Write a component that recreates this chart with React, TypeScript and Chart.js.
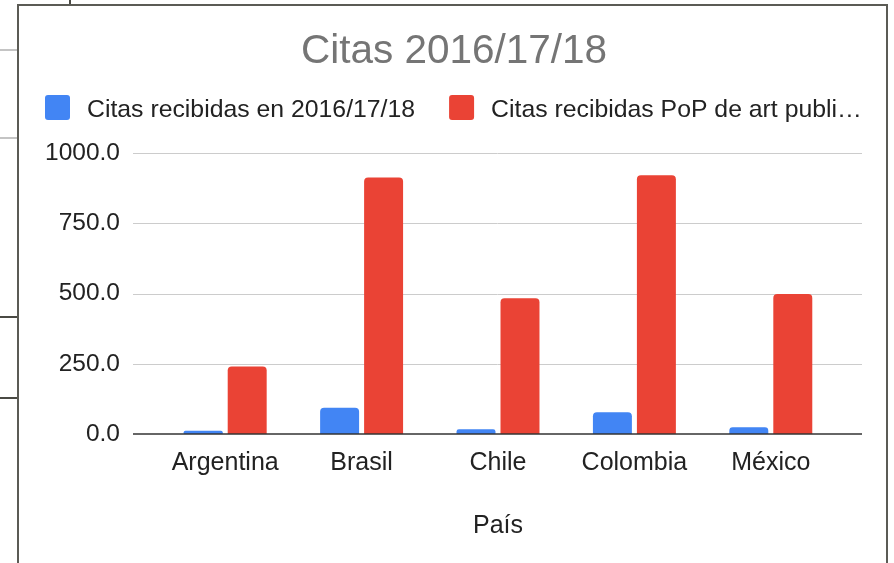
import React, { useEffect, useRef } from "react";
import { Chart, registerables } from "chart.js";

Chart.register(...registerables);

const chartTitle = "Citas 2016/17/18";
const categories = ["Argentina", "Brasil", "Chile", "Colombia", "México"];
const seriesNames = ["Citas recibidas en 2016/17/18", "Citas recibidas PoP de art publi…"];
const citasRecibidas = [12, 93, 17, 77, 24];
const citasPoP = [240, 913, 483, 921, 498];
const yTicks = [0, 250, 500, 750, 1000];
const xAxisTitle = "País";
const seriesColors = ["#4285F4", "#EA4335"];

const FONT = "Arial, 'Liberation Sans', sans-serif";

const decorPlugin = {
  id: "decor",
  beforeDatasetsDraw(chart: any) {
    const { ctx, chartArea, scales } = chart;
    const y = scales.y;
    ctx.save();
    ctx.strokeStyle = "#cccccc";
    ctx.lineWidth = 1;
    y.ticks.forEach((t: any) => {
      if (t.value === 0) return;
      const py = Math.round(y.getPixelForValue(t.value)) + 0.5;
      ctx.beginPath();
      ctx.moveTo(chartArea.left - 24, py);
      ctx.lineTo(chartArea.right + 23, py);
      ctx.stroke();
    });
    ctx.restore();
  },
  afterDatasetsDraw(chart: any) {
    const { ctx, chartArea, scales } = chart;
    const py = scales.y.getPixelForValue(0);
    ctx.save();
    ctx.strokeStyle = "#333333";
    ctx.lineWidth = 1.6;
    ctx.beginPath();
    ctx.moveTo(chartArea.left - 24, py);
    ctx.lineTo(chartArea.right + 23, py);
    ctx.stroke();
    ctx.restore();
  },
  afterDraw(chart: any) {
    const { ctx } = chart;
    ctx.save();
    // title
    ctx.font = `40.5px ${FONT}`;
    ctx.fillStyle = "#757575";
    ctx.textAlign = "center";
    ctx.textBaseline = "alphabetic";
    ctx.fillText(chartTitle, 454, 63);
    // legend
    ctx.font = `24.8px ${FONT}`;
    ctx.textAlign = "left";
    let x = 45;
    chart.data.datasets.forEach((ds: any) => {
      ctx.fillStyle = ds.backgroundColor;
      ctx.beginPath();
      (ctx as any).roundRect(x, 95, 25, 25, 3);
      ctx.fill();
      ctx.fillStyle = "#222222";
      ctx.fillText(ds.label, x + 42, 116.5);
      const w = ctx.measureText(ds.label).width;
      x = x + 42 + w + 34;
    });
    ctx.restore();
  },
};

export default function App() {
  const ref = useRef<HTMLCanvasElement | null>(null);

  useEffect(() => {
    if (!ref.current) return;
    const chart = new Chart(ref.current, {
      type: "bar",
      data: {
        labels: categories,
        datasets: [
          {
            label: seriesNames[0],
            data: citasRecibidas,
            backgroundColor: seriesColors[0],
            borderRadius: { topLeft: 4, topRight: 4, bottomLeft: 0, bottomRight: 0 },
            borderSkipped: false,
            categoryPercentage: 0.645,
            barPercentage: 0.886,
          },
          {
            label: seriesNames[1],
            data: citasPoP,
            backgroundColor: seriesColors[1],
            borderRadius: { topLeft: 4, topRight: 4, bottomLeft: 0, bottomRight: 0 },
            borderSkipped: false,
            categoryPercentage: 0.645,
            barPercentage: 0.886,
          },
        ],
      },
      options: {
        responsive: false,
        animation: false,
        devicePixelRatio: 1,
        layout: { padding: { top: 153, right: 55, bottom: 0, left: 0 } },
        plugins: {
          legend: { display: false },
          title: { display: false },
          tooltip: { enabled: false },
        },
        scales: {
          x: {
            grid: { display: false, drawTicks: false },
            border: { display: false },
            ticks: {
              font: { family: FONT, size: 25 },
              color: "#222222",
              padding: 14,
              maxRotation: 0,
            },
            title: {
              display: true,
              text: xAxisTitle,
              font: { family: FONT, size: 25 },
              color: "#222222",
              padding: { top: 0, bottom: 22 },
            },
            afterFit: (s: any) => {
              s.height = 129;
            },
          },
          y: {
            min: 0,
            max: 1000,
            grid: { display: false, drawTicks: false },
            border: { display: false },
            ticks: {
              font: { family: FONT, size: 24.5 },
              color: "#222222",
              padding: 37,
              callback: (v: any) => Number(v).toFixed(1),
            },
            afterBuildTicks: (s: any) => {
              s.ticks = yTicks.map((v) => ({ value: v }));
            },
            afterFit: (s: any) => {
              s.width = 157;
            },
          },
        },
      },
      plugins: [decorPlugin],
    });
    return () => chart.destroy();
  }, []);

  return (
    <div
      style={{
        position: "fixed",
        left: 0,
        top: 0,
        width: 894,
        height: 563,
        overflow: "hidden",
        background: "#ffffff",
      }}
    >
      <div style={{ position: "absolute", left: 69, top: 0, width: 2, height: 5, background: "#4a4a44" }} />
      <div style={{ position: "absolute", left: 0, top: 49, width: 17, height: 2, background: "#c4c4c4" }} />
      <div style={{ position: "absolute", left: 0, top: 137, width: 17, height: 2, background: "#c4c4c4" }} />
      <div style={{ position: "absolute", left: 0, top: 316, width: 17, height: 2, background: "#4a4a44" }} />
      <div style={{ position: "absolute", left: 0, top: 397, width: 17, height: 2, background: "#4a4a44" }} />
      <div
        style={{
          position: "absolute",
          left: 17,
          top: 4,
          width: 871,
          height: 620,
          boxSizing: "border-box",
          border: "2px solid #5b5b55",
        }}
      />
      <canvas
        ref={ref}
        width={894}
        height={563}
        style={{ position: "absolute", left: 0, top: 0, width: 894, height: 563, display: "block" }}
      />
    </div>
  );
}
